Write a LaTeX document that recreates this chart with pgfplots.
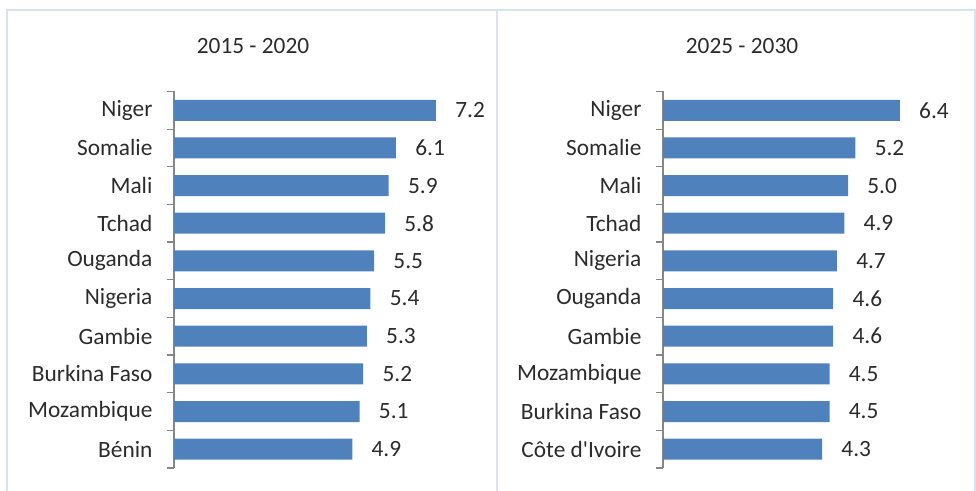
\documentclass[border=0pt]{standalone}
\usepackage{pgfplots}
\pgfplotsset{compat=1.18}
\usepackage{fontspec}
\setmainfont{Carlito}[Ligatures=TeXOff]
\definecolor{barblue}{HTML}{4F81BD}
\definecolor{framecol}{HTML}{D9E2EF}
\definecolor{axcol}{HTML}{868686}
\definecolor{txt}{HTML}{2B2B2B}
\pgfplotsset{
  hpanel/.style={
    xbar, scale only axis,
    width=229.5pt, height=282.4pt,
    xmin=0, ymin=-0.5, ymax=9.5,
    axis x line=none, axis y line*=left,
    y axis line style={axcol, line width=0.9pt, -},
    ytick={0,...,9},
    minor ytick={-0.5,0.5,...,9.5},
    major tick length=0pt, minor tick length=5.5pt,
    tick align=outside,
    every minor tick/.style={axcol, line width=0.9pt},
    yticklabel style={inner sep=0pt, xshift=-16pt, font=\fontsize{17.5pt}{21pt}\selectfont, text=txt},
    bar width=15.75pt,
    point meta=x,
    /pgf/number format/assume math mode=true,
    nodes near coords={\pgfmathprintnumber[fixed,fixed zerofill,precision=1]{\pgfplotspointmeta}},
    every node near coord/.append style={font=\fontsize{17.5pt}{21pt}\selectfont, text=txt, anchor=west, xshift=11pt},
    clip=false,
  }
}
\begin{document}
\begin{tikzpicture}
\useasboundingbox (0pt,0pt) rectangle (732pt,368.25pt);
\draw[framecol, line width=1.2pt] (5.25pt,0pt) -- (5.25pt,360.75pt) -- (731.25pt,360.75pt) -- (731.25pt,0pt);
\draw[framecol, line width=1.2pt] (372.75pt,0pt) -- (372.75pt,360.75pt);
\node[font=\fontsize{17.5pt}{21pt}\selectfont, text=txt] at (189.75pt,333.75pt) {2015 - 2020};
\node[font=\fontsize{17.5pt}{21pt}\selectfont, text=txt] at (556.5pt,333.75pt) {2025 - 2030};
\begin{axis}[hpanel, at={(130.5pt,17.25pt)}, anchor=south west, xmax=8.41,
  yticklabels={Bénin,Mozambique,Burkina Faso,Gambie,Nigeria,Ouganda,Tchad,Mali,Somalie,Niger}]
\addplot[fill=barblue, draw=none] coordinates {
(4.9,0) (5.1,1) (5.2,2) (5.3,3) (5.4,4) (5.5,5) (5.8,6) (5.9,7) (6.1,8) (7.2,9)};
\end{axis}
\begin{axis}[hpanel, at={(497.25pt,17.25pt)}, anchor=south west, xmax=8.27,
  yticklabels={Côte d'Ivoire,Burkina Faso,Mozambique,Gambie,Ouganda,Nigeria,Tchad,Mali,Somalie,Niger}]
\addplot[fill=barblue, draw=none] coordinates {
(4.3,0) (4.5,1) (4.5,2) (4.6,3) (4.6,4) (4.7,5) (4.9,6) (5.0,7) (5.2,8) (6.4,9)};
\end{axis}
\end{tikzpicture}
\end{document}
